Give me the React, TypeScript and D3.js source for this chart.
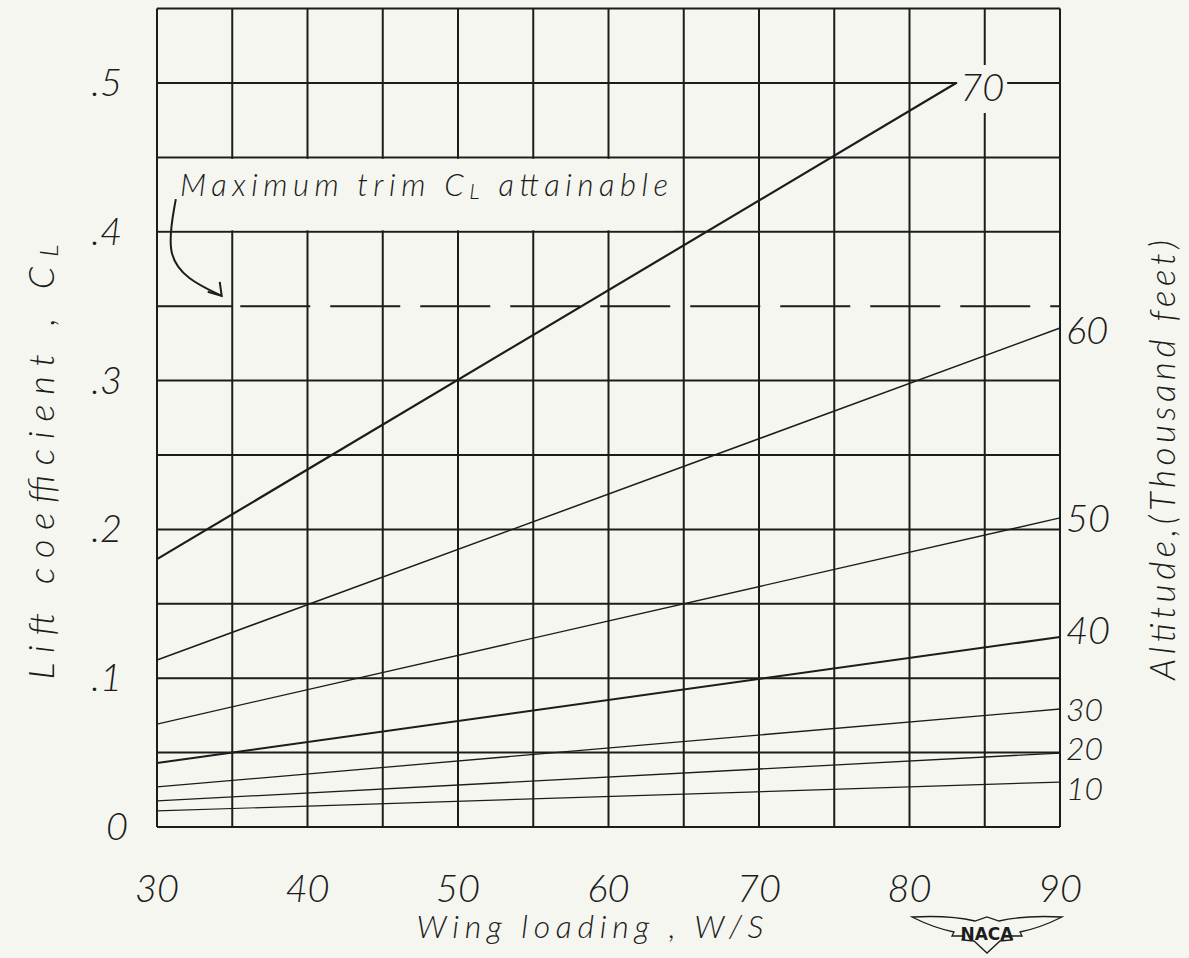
import React from "react";
import * as d3 from "d3";

// wing loading W/S grid (every 5) and labelled ticks
const xTicks = [30, 40, 50, 60, 70, 80, 90];
const yTicks = [0, 0.1, 0.2, 0.3, 0.4, 0.5];
const yTickText = ["0", ".1", ".2", ".3", ".4", ".5"];

// altitude curves, thousand feet; each is a straight line from W/S = 30 to its end
const altitudes = [10, 20, 30, 40, 50, 60, 70];
const clStart = [0.0108, 0.0175, 0.0269, 0.043, 0.0692, 0.1122, 0.18];
const wsEnd = [90, 90, 90, 90, 90, 90, 83.1];
const clEnd = [0.0302, 0.0497, 0.0793, 0.1277, 0.2077, 0.3353, 0.5];

const maxTrimCL = 0.35;

const lineWidth: Record<number, number> = { 10: 1.2, 20: 1.3, 30: 1.3, 40: 2, 50: 1.3, 60: 1.5, 70: 2.2 };
// baseline offset of each altitude label from its line end (px)
const labelDy: Record<number, number> = { 10: 18, 20: 7, 30: 12, 40: 7, 50: 14, 60: 16, 70: 18 };

const W = 1189;
const H = 958;
const paper = "#f6f6f0";
const ink = "#1c1c1c";
const hand = "'Lato', 'DejaVu Sans', sans-serif";

export default function App() {
  const x = d3.scaleLinear().domain([30, 90]).range([157, 1060]);
  const y = d3.scaleLinear().domain([0, 0.55]).range([827, 8.6]);

  const xGrid = d3.range(30, 90.01, 5);
  const yGrid = d3.range(0, 0.5501, 0.05);

  const line = d3
    .line<[number, number]>()
    .x((d) => x(d[0]))
    .y((d) => y(d[1]));

  // curved arrow pointing at the max trim line
  const arrowPts: [number, number][] = [
    [31.25, 0.422],
    [30.6, 0.385],
    [32.0, 0.368],
    [34.3, 0.357],
  ];
  const arrow = d3
    .line<[number, number]>()
    .x((d) => x(d[0]))
    .y((d) => y(d[1]))
    .curve(d3.curveBasis)(arrowPts);
  const tip: [number, number] = [x(34.3), y(0.357)];

  return (
    <svg
      width={W}
      height={H}
      style={{ position: "absolute", left: 0, top: 0, background: paper }}
      fontFamily={hand}
      fontStyle="italic"
      fontWeight={300}
      fill={ink}
    >
      <rect width={W} height={H} fill={paper} />

      {/* grid; the .35 row is replaced by the dashed line past W/S = 35 */}
      <g stroke={ink} strokeWidth={2}>
        {xGrid.map((v) => (
          <line key={"v" + v} x1={x(v)} x2={x(v)} y1={y(0.55)} y2={y(0)} />
        ))}
        {yGrid.map((v) => (
          <line
            key={"h" + v}
            x1={x(30)}
            x2={Math.abs(v - maxTrimCL) < 1e-6 ? x(35) : x(90)}
            y1={y(v)}
            y2={y(v)}
          />
        ))}
      </g>

      {/* blank band behind the annotation */}
      <rect
        x={x(30) + 1.5}
        y={y(0.45) + 1.5}
        width={672 - x(30)}
        height={y(0.4) - y(0.45) - 3}
        fill={paper}
      />
      <text x={180} y={196} fontSize={31} textLength={488} lengthAdjust="spacing">
        Maximum trim C<tspan fontSize={22} dy={3}>L</tspan>
        <tspan dy={-3}> attainable</tspan>
      </text>
      <path d={arrow ?? ""} fill="none" stroke={ink} strokeWidth={2} />
      <path
        d={`M${tip[0] - 14},${tip[1] - 4} L${tip[0]},${tip[1]} L${tip[0] - 2},${tip[1] - 14}`}
        fill="none"
        stroke={ink}
        strokeWidth={2}
      />

      {/* max trim CL dashed line */}
      <line
        x1={x(35) + 8}
        x2={x(90)}
        y1={y(maxTrimCL)}
        y2={y(maxTrimCL)}
        stroke={ink}
        strokeWidth={2}
        strokeDasharray="70 20"
      />

      {/* altitude lines */}
      {altitudes.map((a, i) => (
        <path
          key={"alt" + a}
          d={line([
            [30, clStart[i]],
            [wsEnd[i], clEnd[i]],
          ]) ?? ""}
          fill="none"
          stroke={ink}
          strokeWidth={lineWidth[a]}
        />
      ))}

      {/* altitude labels */}
      {altitudes.map((a, i) => {
        const lx = x(wsEnd[i]) + (wsEnd[i] < 90 ? 4 : 6);
        const ly = y(clEnd[i]) + labelDy[a];
        return (
          <g key={"lab" + a}>
            {wsEnd[i] < 90 && (
              <rect x={lx - 3} y={ly - 36} width={50} height={48} fill={paper} />
            )}
            <text x={lx} y={ly} fontSize={a <= 30 ? 32 : 38}>
              {a}
            </text>
          </g>
        );
      })}

      {/* left ticks */}
      {yTicks.map((v, i) => (
        <text key={"yt" + v} x={v === 0 ? 128 : 122} y={y(v) + 13} fontSize={38} textAnchor="end">
          {yTickText[i]}
        </text>
      ))}

      {/* bottom ticks */}
      {xTicks.map((v) => (
        <text key={"xt" + v} x={x(v)} y={902} fontSize={38} textAnchor="middle">
          {v}
        </text>
      ))}

      {/* axis titles */}
      <text x={590} y={938} fontSize={32} textAnchor="middle" textLength={347} lengthAdjust="spacing">
        Wing loading , W/S
      </text>
      <text
        transform="translate(54,462) rotate(-90)"
        fontSize={36}
        textAnchor="middle"
        textLength={435}
        lengthAdjust="spacing"
      >
        Lift coefficient , C<tspan fontSize={26} dy={4}>L</tspan>
      </text>
      <text
        transform="translate(1175,460) rotate(-90)"
        fontSize={35}
        textAnchor="middle"
        textLength={440}
        lengthAdjust="spacing"
      >
        Altitude,(Thousand feet)
      </text>

      {/* NACA wings */}
      <g fill="none" stroke={ink} strokeWidth={1.3}>
        <path d="M912,917 Q950,915 975,921 L987,917 L999,921 Q1024,915 1062,917 Q1040,928 1020,932 L1022,936 L1010,936 L1012,940 L1000,941 L987,953 L974,941 L962,940 L964,936 L952,936 L954,932 Q934,928 912,917 Z" />
      </g>
      <text x={987} y={940} fontSize={17} fontStyle="normal" fontWeight={600} textAnchor="middle" fontFamily="'DejaVu Sans', sans-serif">
        NACA
      </text>
    </svg>
  );
}
